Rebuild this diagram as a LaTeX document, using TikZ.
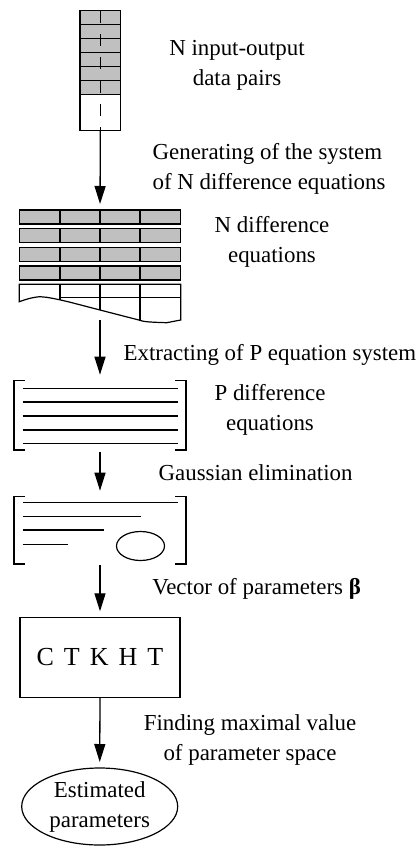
\documentclass[tikz,border=0pt]{standalone}
\usepackage{fontspec}
\setmainfont{Liberation Serif}
\usetikzlibrary{arrows.meta,shapes.geometric}
\definecolor{boxgray}{RGB}{192,192,192}
\begin{document}
\begin{tikzpicture}[x=1pt,y=-1pt,line width=1.2pt,
  lbl/.style={font=\fontsize{22.9}{30}\selectfont,inner sep=0,anchor=base west},
  clbl/.style={font=\fontsize{22.9}{30}\selectfont,inner sep=0,anchor=base},
  arr/.style={-{Triangle[length=18pt,width=11pt]},shorten >=6pt,line width=1.3pt},
  grayrow/.style={draw,fill=boxgray},
  hole/.style={inner sep=0,outer sep=0}]
\useasboundingbox (0,0) rectangle (419,854);

% --- stack of N data pairs
\node[hole,draw,minimum width=40.7pt,minimum height=120pt,anchor=north west] (stack) at (80,10.7) {};
\foreach \i in {0,...,5} \draw[grayrow] (80,10.7+\i*13.93) rectangle ++(40.7,13.93);
\draw[dash pattern=on 12pt off 11.3pt] (100.4,10.7) -- (100.4,130.7);

% --- N difference equations
\node[hole,minimum width=161.4pt,minimum height=74.3pt,anchor=north west] (eq) at (19.3,210) {};
\foreach \y in {210,228.6,247.3,266} {
  \draw[grayrow] (19.3,\y) rectangle (180.7,\y+14);
  \foreach \x in {60,100,140} \draw (\x,\y) -- (\x,\y+14);
}
\draw (19.3,284.3) -- (180.7,284.3) -- (180.7,320)
  -- plot[smooth,tension=0.6] coordinates {(166.7,322.7) (146.7,321.7) (135,319) (100,310) (65,301) (46.7,297.3) (40,296.7) (30,298.3) (19.3,301.7)} -- cycle;
\draw (60,297.3) -- (180.7,297.3);
\draw (60,284.3) -- (60,300);
\draw (100,284.3) -- (100,310);
\draw (140,284.3) -- (140,320);
\coordinate (eqout) at (100,320);

% --- P difference equations
\node[hole,minimum width=172pt,minimum height=69.3pt,anchor=north west] (pbox) at (14,380.7) {};
\draw (25,380.7) -- (14,380.7) -- (14,450) -- (25,450);
\draw (175,380.7) -- (186,380.7) -- (186,450) -- (175,450);
\foreach \y in {388.3,402,416,430,443.3} \draw (22.7,\y) -- (178.3,\y);

% --- Gaussian elimination result
\node[hole,minimum width=172pt,minimum height=67.3pt,anchor=north west] (gbox) at (14,496.7) {};
\draw (25,496.7) -- (14,496.7) -- (14,564) -- (25,564);
\draw (175,496.7) -- (186,496.7) -- (186,564) -- (175,564);
\draw (22.7,502.7) -- (178.3,502.7);
\draw (22.7,516.7) -- (141,516.7);
\draw (22.7,530) -- (104.3,530);
\draw (22.7,544.3) -- (68.3,544.3);
\node[hole,draw,ellipse,minimum width=48pt,minimum height=29pt] (oval) at (140.5,546) {};

% --- CTKHT
\node[hole,draw,minimum width=160pt,minimum height=80pt,font=\fontsize{26}{30}\selectfont] (ctk) at (100,657.3)
  {C\hspace{10pt}T\hspace{10pt}K\hspace{10pt}H\hspace{10pt}T};

% --- Estimated parameters
\node[hole,draw,ellipse,minimum width=156pt,minimum height=77pt,align=center,font=\fontsize{22.9}{30}\selectfont] (est) at (99.7,806.5)
  {Estimated\\parameters};

% --- arrows
\draw[arr] (stack.south) -- (eq.north);
\draw[arr] (eqout) -- (pbox.north);
\draw[arr] ([yshift=-1.7pt]pbox.south) -- (gbox.north);
\draw[arr] ([yshift=-1pt]gbox.south) -- (ctk.north);
\draw[arr] (ctk.south) -- (est.north);

% --- labels
\node[clbl] (l1a) at (237,55) {N input-output};
\node[clbl] (l1b) at (237,85) {data pairs};
\node[lbl] (l2a) at (152,159.3) {Generating of the system};
\node[lbl] (l2b) at (152,189.3) {of N difference equations};
\node[clbl] (l3a) at (272,232) {N difference};
\node[clbl] (l3b) at (272,262) {equations};
\node[lbl] (l4) at (123,360) {Extracting of P equation system};
\node[clbl] (l5a) at (270,400) {P difference};
\node[clbl] (l5b) at (270,430) {equations};
\node[lbl] (l6) at (158,480) {Gaussian elimination};
\node[lbl] (l7) at (151.7,594) {Vector of parameters {\bfseries β}};
\node[clbl] (l8a) at (250,730) {Finding maximal value};
\node[clbl] (l8b) at (250,760) {of parameter space};
\end{tikzpicture}
\end{document}
